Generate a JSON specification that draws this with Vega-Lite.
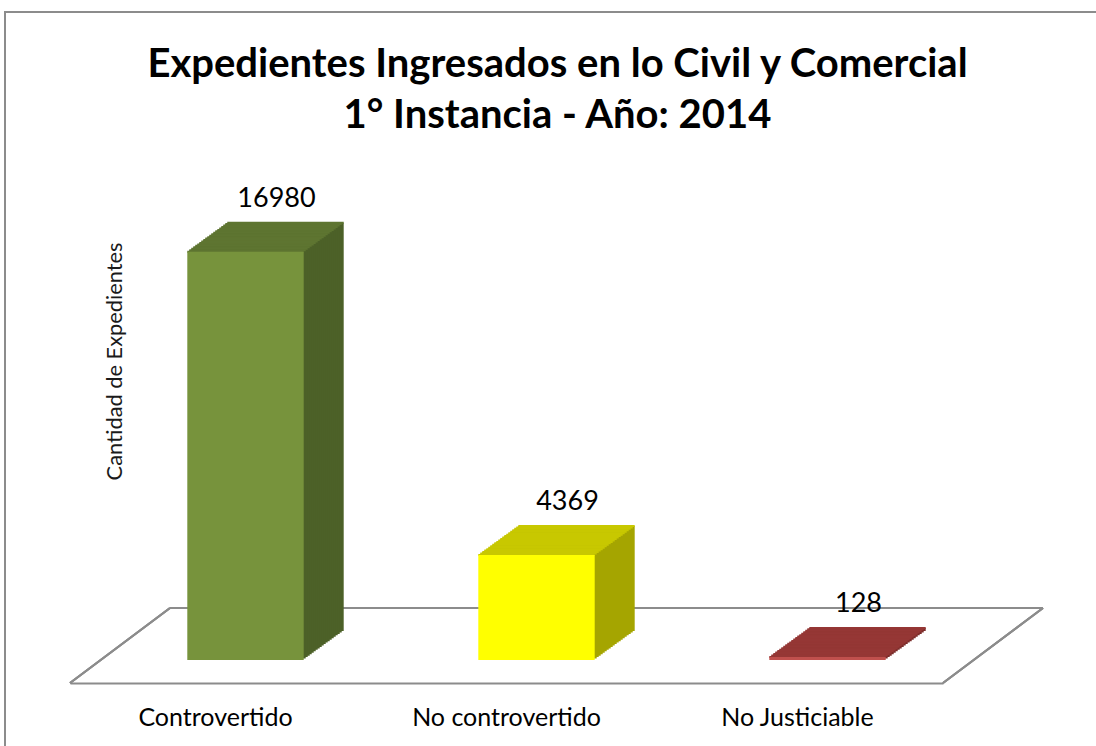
{
  "$schema": "https://vega.github.io/schema/vega-lite/v6.json",
  "autosize": {"type": "none"},
  "padding": {"left": 5, "top": 12, "right": 0, "bottom": 0},
  "width": 1091,
  "height": 734,
  "background": "white",
  "config": {
    "view": {"stroke": "#8c8c8c", "strokeWidth": 2, "strokeDash": [1091, 1825, 734]},
    "font": "Lato"
  },
  "title": {
    "text": ["Expedientes Ingresados en lo Civil y Comercial", "1° Instancia - Año: 2014"],
    "font": "Lato", "fontSize": 40, "fontWeight": "bold", "color": "black",
    "anchor": "middle", "lineHeight": 51, "offset": -124, "dx": 7
  },
  "data": {"values": [
    {"cat": "Controvertido", "value": 16980},
    {"cat": "No controvertido", "value": 4369},
    {"cat": "No Justiciable", "value": 128}
  ]},
  "encoding": {
    "x": {"field": "cat", "type": "nominal", "sort": null,
      "scale": {"type": "band", "domain": ["Controvertido", "No controvertido", "No Justiciable"], "range": [65, 938], "paddingInner": 0.6, "paddingOuter": 0.3},
      "axis": {"title": null, "domainColor": "#8c8c8c", "domainWidth": 2, "ticks": false, "tickSize": 0, "labelFont": "Lato", "labelFontSize": 25, "labelColor": "black", "labelPadding": 22, "labelLimit": 0, "offset": -63, "labelAngle": 0, "labelBaseline": "top", "grid": false}},
    "y": {"field": "value", "type": "quantitative",
      "scale": {"domain": [0, 20000], "range": [671, 190], "nice": false, "zero": true},
      "axis": {"title": "Cantidad de Expedientes", "domain": false, "ticks": false, "labels": false, "grid": false, "titleFont": "Lato", "titleFontWeight": "normal", "titleFontSize": 21.8, "titleColor": "#1a1a1a", "titleX": 116, "titleY": 349, "titleAngle": -90, "titleBaseline": "alphabetic", "titleAlign": "center", "titleLimit": 0}}
  },
  "layer": [
    {"mark": {"type": "rule", "color": "#8c8c8c", "strokeWidth": 2, "xOffset": 100, "x2Offset": 100, "yOffset": -75, "y2Offset": -75},
     "encoding": {"x": {"datum": "Controvertido", "type": "nominal", "bandPosition": -0.75}, "x2": {"datum": "No Justiciable", "bandPosition": 1.75}, "y": {"datum": 0, "type": "quantitative"}, "y2": {"datum": 0}}},
    {"mark": {"type": "rule", "color": "#8c8c8c", "strokeWidth": 2, "x2Offset": 100, "y2Offset": -75},
     "encoding": {"x": {"datum": "Controvertido", "type": "nominal", "bandPosition": -0.75}, "x2": {"datum": "Controvertido", "bandPosition": -0.75}, "y": {"datum": 0, "type": "quantitative"}, "y2": {"datum": 0}}},
    {"mark": {"type": "rule", "color": "#8c8c8c", "strokeWidth": 2, "x2Offset": 100, "y2Offset": -75},
     "encoding": {"x": {"datum": "No Justiciable", "type": "nominal", "bandPosition": 1.75}, "x2": {"datum": "No Justiciable", "bandPosition": 1.75}, "y": {"datum": 0, "type": "quantitative"}, "y2": {"datum": 0}}},

    {"mark": {"type": "bar", "xOffset": 70, "yOffset": -52, "y2Offset": -52}, "encoding": {"color": {"field": "cat", "type": "nominal", "scale": {"domain": ["Controvertido", "No controvertido", "No Justiciable"], "range": ["#4C6128", "#A5A500", "#7B2C2A"]}, "legend": null}}},
    {"mark": {"type": "rule", "strokeWidth": 2, "xOffset": 70, "x2Offset": 70, "yOffset": -52, "y2Offset": -52}, "encoding": {"x": {"field": "cat", "type": "nominal", "bandPosition": 0}, "x2": {"field": "cat", "bandPosition": 1}, "stroke": {"field": "cat", "type": "nominal", "scale": {"domain": ["Controvertido", "No controvertido", "No Justiciable"], "range": ["#5E7531", "#C8C800", "#953735"]}, "legend": null}}},
    {"mark": {"type": "bar", "xOffset": 68, "yOffset": -50.55, "y2Offset": -50.55}, "encoding": {"color": {"field": "cat", "type": "nominal", "legend": null}}},
    {"mark": {"type": "rule", "strokeWidth": 2, "xOffset": 68, "x2Offset": 68, "yOffset": -50.55, "y2Offset": -50.55}, "encoding": {"x": {"field": "cat", "type": "nominal", "bandPosition": 0}, "x2": {"field": "cat", "bandPosition": 1}, "stroke": {"field": "cat", "type": "nominal", "legend": null}}},
    {"mark": {"type": "bar", "xOffset": 66, "yOffset": -49.1, "y2Offset": -49.1}, "encoding": {"color": {"field": "cat", "type": "nominal", "legend": null}}},
    {"mark": {"type": "rule", "strokeWidth": 2, "xOffset": 66, "x2Offset": 66, "yOffset": -49.1, "y2Offset": -49.1}, "encoding": {"x": {"field": "cat", "type": "nominal", "bandPosition": 0}, "x2": {"field": "cat", "bandPosition": 1}, "stroke": {"field": "cat", "type": "nominal", "legend": null}}},
    {"mark": {"type": "bar", "xOffset": 64, "yOffset": -47.65, "y2Offset": -47.65}, "encoding": {"color": {"field": "cat", "type": "nominal", "legend": null}}},
    {"mark": {"type": "rule", "strokeWidth": 2, "xOffset": 64, "x2Offset": 64, "yOffset": -47.65, "y2Offset": -47.65}, "encoding": {"x": {"field": "cat", "type": "nominal", "bandPosition": 0}, "x2": {"field": "cat", "bandPosition": 1}, "stroke": {"field": "cat", "type": "nominal", "legend": null}}},
    {"mark": {"type": "bar", "xOffset": 62, "yOffset": -46.2, "y2Offset": -46.2}, "encoding": {"color": {"field": "cat", "type": "nominal", "legend": null}}},
    {"mark": {"type": "rule", "strokeWidth": 2, "xOffset": 62, "x2Offset": 62, "yOffset": -46.2, "y2Offset": -46.2}, "encoding": {"x": {"field": "cat", "type": "nominal", "bandPosition": 0}, "x2": {"field": "cat", "bandPosition": 1}, "stroke": {"field": "cat", "type": "nominal", "legend": null}}},
    {"mark": {"type": "bar", "xOffset": 60, "yOffset": -44.75, "y2Offset": -44.75}, "encoding": {"color": {"field": "cat", "type": "nominal", "legend": null}}},
    {"mark": {"type": "rule", "strokeWidth": 2, "xOffset": 60, "x2Offset": 60, "yOffset": -44.75, "y2Offset": -44.75}, "encoding": {"x": {"field": "cat", "type": "nominal", "bandPosition": 0}, "x2": {"field": "cat", "bandPosition": 1}, "stroke": {"field": "cat", "type": "nominal", "legend": null}}},
    {"mark": {"type": "bar", "xOffset": 58, "yOffset": -43.3, "y2Offset": -43.3}, "encoding": {"color": {"field": "cat", "type": "nominal", "legend": null}}},
    {"mark": {"type": "rule", "strokeWidth": 2, "xOffset": 58, "x2Offset": 58, "yOffset": -43.3, "y2Offset": -43.3}, "encoding": {"x": {"field": "cat", "type": "nominal", "bandPosition": 0}, "x2": {"field": "cat", "bandPosition": 1}, "stroke": {"field": "cat", "type": "nominal", "legend": null}}},
    {"mark": {"type": "bar", "xOffset": 56, "yOffset": -41.85, "y2Offset": -41.85}, "encoding": {"color": {"field": "cat", "type": "nominal", "legend": null}}},
    {"mark": {"type": "rule", "strokeWidth": 2, "xOffset": 56, "x2Offset": 56, "yOffset": -41.85, "y2Offset": -41.85}, "encoding": {"x": {"field": "cat", "type": "nominal", "bandPosition": 0}, "x2": {"field": "cat", "bandPosition": 1}, "stroke": {"field": "cat", "type": "nominal", "legend": null}}},
    {"mark": {"type": "bar", "xOffset": 54, "yOffset": -40.4, "y2Offset": -40.4}, "encoding": {"color": {"field": "cat", "type": "nominal", "legend": null}}},
    {"mark": {"type": "rule", "strokeWidth": 2, "xOffset": 54, "x2Offset": 54, "yOffset": -40.4, "y2Offset": -40.4}, "encoding": {"x": {"field": "cat", "type": "nominal", "bandPosition": 0}, "x2": {"field": "cat", "bandPosition": 1}, "stroke": {"field": "cat", "type": "nominal", "legend": null}}},
    {"mark": {"type": "bar", "xOffset": 52, "yOffset": -38.95, "y2Offset": -38.95}, "encoding": {"color": {"field": "cat", "type": "nominal", "legend": null}}},
    {"mark": {"type": "rule", "strokeWidth": 2, "xOffset": 52, "x2Offset": 52, "yOffset": -38.95, "y2Offset": -38.95}, "encoding": {"x": {"field": "cat", "type": "nominal", "bandPosition": 0}, "x2": {"field": "cat", "bandPosition": 1}, "stroke": {"field": "cat", "type": "nominal", "legend": null}}},
    {"mark": {"type": "bar", "xOffset": 50, "yOffset": -37.5, "y2Offset": -37.5}, "encoding": {"color": {"field": "cat", "type": "nominal", "legend": null}}},
    {"mark": {"type": "rule", "strokeWidth": 2, "xOffset": 50, "x2Offset": 50, "yOffset": -37.5, "y2Offset": -37.5}, "encoding": {"x": {"field": "cat", "type": "nominal", "bandPosition": 0}, "x2": {"field": "cat", "bandPosition": 1}, "stroke": {"field": "cat", "type": "nominal", "legend": null}}},
    {"mark": {"type": "bar", "xOffset": 48, "yOffset": -36.05, "y2Offset": -36.05}, "encoding": {"color": {"field": "cat", "type": "nominal", "legend": null}}},
    {"mark": {"type": "rule", "strokeWidth": 2, "xOffset": 48, "x2Offset": 48, "yOffset": -36.05, "y2Offset": -36.05}, "encoding": {"x": {"field": "cat", "type": "nominal", "bandPosition": 0}, "x2": {"field": "cat", "bandPosition": 1}, "stroke": {"field": "cat", "type": "nominal", "legend": null}}},
    {"mark": {"type": "bar", "xOffset": 46, "yOffset": -34.6, "y2Offset": -34.6}, "encoding": {"color": {"field": "cat", "type": "nominal", "legend": null}}},
    {"mark": {"type": "rule", "strokeWidth": 2, "xOffset": 46, "x2Offset": 46, "yOffset": -34.6, "y2Offset": -34.6}, "encoding": {"x": {"field": "cat", "type": "nominal", "bandPosition": 0}, "x2": {"field": "cat", "bandPosition": 1}, "stroke": {"field": "cat", "type": "nominal", "legend": null}}},
    {"mark": {"type": "bar", "xOffset": 44, "yOffset": -33.15, "y2Offset": -33.15}, "encoding": {"color": {"field": "cat", "type": "nominal", "legend": null}}},
    {"mark": {"type": "rule", "strokeWidth": 2, "xOffset": 44, "x2Offset": 44, "yOffset": -33.15, "y2Offset": -33.15}, "encoding": {"x": {"field": "cat", "type": "nominal", "bandPosition": 0}, "x2": {"field": "cat", "bandPosition": 1}, "stroke": {"field": "cat", "type": "nominal", "legend": null}}},
    {"mark": {"type": "bar", "xOffset": 42, "yOffset": -31.7, "y2Offset": -31.7}, "encoding": {"color": {"field": "cat", "type": "nominal", "legend": null}}},
    {"mark": {"type": "rule", "strokeWidth": 2, "xOffset": 42, "x2Offset": 42, "yOffset": -31.7, "y2Offset": -31.7}, "encoding": {"x": {"field": "cat", "type": "nominal", "bandPosition": 0}, "x2": {"field": "cat", "bandPosition": 1}, "stroke": {"field": "cat", "type": "nominal", "legend": null}}},
    {"mark": {"type": "bar", "xOffset": 40, "yOffset": -30.25, "y2Offset": -30.25}, "encoding": {"color": {"field": "cat", "type": "nominal", "legend": null}}},
    {"mark": {"type": "rule", "strokeWidth": 2, "xOffset": 40, "x2Offset": 40, "yOffset": -30.25, "y2Offset": -30.25}, "encoding": {"x": {"field": "cat", "type": "nominal", "bandPosition": 0}, "x2": {"field": "cat", "bandPosition": 1}, "stroke": {"field": "cat", "type": "nominal", "legend": null}}},
    {"mark": {"type": "bar", "xOffset": 38, "yOffset": -28.8, "y2Offset": -28.8}, "encoding": {"color": {"field": "cat", "type": "nominal", "legend": null}}},
    {"mark": {"type": "rule", "strokeWidth": 2, "xOffset": 38, "x2Offset": 38, "yOffset": -28.8, "y2Offset": -28.8}, "encoding": {"x": {"field": "cat", "type": "nominal", "bandPosition": 0}, "x2": {"field": "cat", "bandPosition": 1}, "stroke": {"field": "cat", "type": "nominal", "legend": null}}},
    {"mark": {"type": "bar", "xOffset": 36, "yOffset": -27.35, "y2Offset": -27.35}, "encoding": {"color": {"field": "cat", "type": "nominal", "legend": null}}},
    {"mark": {"type": "rule", "strokeWidth": 2, "xOffset": 36, "x2Offset": 36, "yOffset": -27.35, "y2Offset": -27.35}, "encoding": {"x": {"field": "cat", "type": "nominal", "bandPosition": 0}, "x2": {"field": "cat", "bandPosition": 1}, "stroke": {"field": "cat", "type": "nominal", "legend": null}}},
    {"mark": {"type": "bar", "xOffset": 34, "yOffset": -25.9, "y2Offset": -25.9}, "encoding": {"color": {"field": "cat", "type": "nominal", "legend": null}}},
    {"mark": {"type": "rule", "strokeWidth": 2, "xOffset": 34, "x2Offset": 34, "yOffset": -25.9, "y2Offset": -25.9}, "encoding": {"x": {"field": "cat", "type": "nominal", "bandPosition": 0}, "x2": {"field": "cat", "bandPosition": 1}, "stroke": {"field": "cat", "type": "nominal", "legend": null}}},
    {"mark": {"type": "bar", "xOffset": 32, "yOffset": -24.45, "y2Offset": -24.45}, "encoding": {"color": {"field": "cat", "type": "nominal", "legend": null}}},
    {"mark": {"type": "rule", "strokeWidth": 2, "xOffset": 32, "x2Offset": 32, "yOffset": -24.45, "y2Offset": -24.45}, "encoding": {"x": {"field": "cat", "type": "nominal", "bandPosition": 0}, "x2": {"field": "cat", "bandPosition": 1}, "stroke": {"field": "cat", "type": "nominal", "legend": null}}},
    {"mark": {"type": "rule", "strokeWidth": 2, "xOffset": 30, "x2Offset": 30, "yOffset": -23, "y2Offset": -23}, "encoding": {"x": {"field": "cat", "type": "nominal", "bandPosition": 0}, "x2": {"field": "cat", "bandPosition": 1}, "stroke": {"field": "cat", "type": "nominal", "legend": null}}},

    {"mark": {"type": "bar", "xOffset": 30, "yOffset": -23, "y2Offset": -23}, "encoding": {"fill": {"field": "cat", "type": "nominal", "scale": {"domain": ["Controvertido", "No controvertido", "No Justiciable"], "range": ["#77933C", "#FFFF00", "#C0504D"]}, "legend": null}}},

    {"mark": {"type": "text", "xOffset": 61, "yOffset": -68, "baseline": "alphabetic", "align": "center", "font": "Lato", "fontSize": 27, "color": "black"},
     "encoding": {"text": {"field": "value", "type": "quantitative", "format": "d"}}}
  ]
}
